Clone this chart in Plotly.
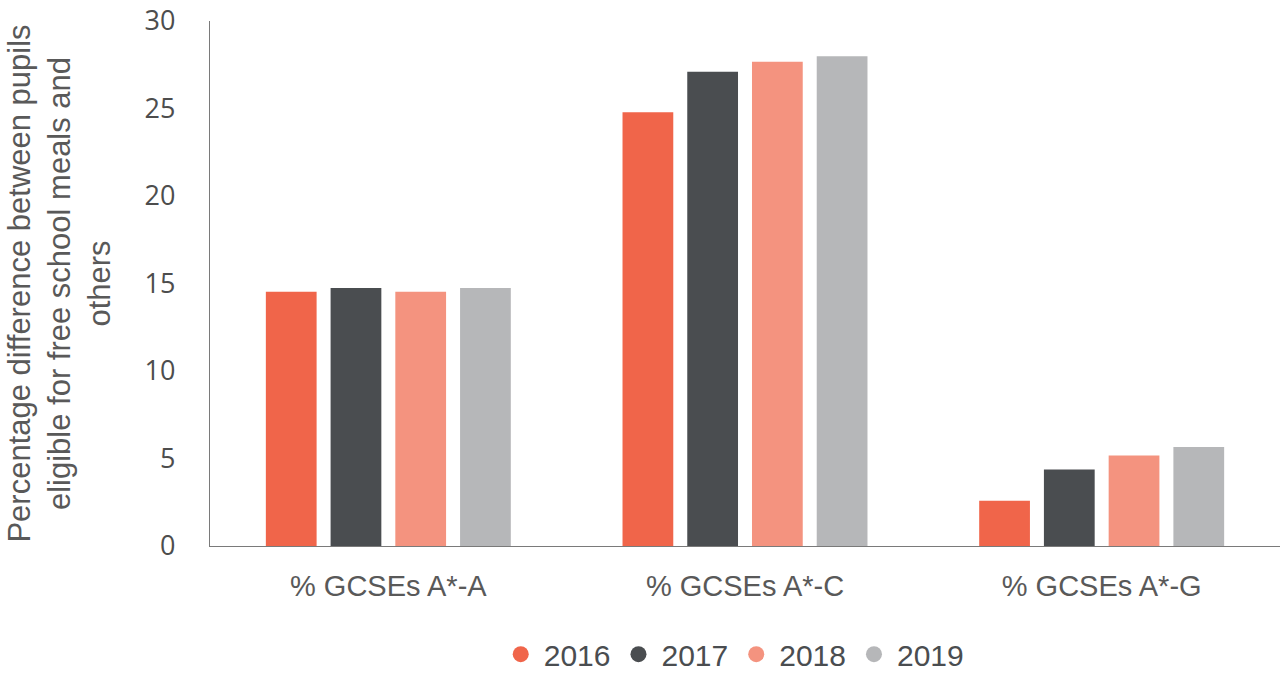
import plotly.graph_objects as go

categories = ["% GCSEs A*-A", "% GCSEs A*-C", "% GCSEs A*-G"]
years = ["2016", "2017", "2018", "2019"]
values_2016 = [14.53, 24.79, 2.59]
values_2017 = [14.74, 27.10, 4.37]
values_2018 = [14.53, 27.67, 5.17]
values_2019 = [14.74, 27.99, 5.66]
colors = ["#F0654A", "#4A4D50", "#F4937F", "#B6B7B9"]

series = [values_2016, values_2017, values_2018, values_2019]

fig = go.Figure()
for name, vals, col in zip(years, series, colors):
    fig.add_trace(go.Bar(x=categories, y=vals, name=name, marker=dict(color=col, line=dict(width=0)),
                         showlegend=False))
for name, col in zip(years, colors):
    fig.add_trace(go.Scatter(x=[None], y=[None], mode="markers", name=name,
                             marker=dict(color=col, size=18, symbol="circle")))

fig.update_layout(
    width=1280, height=673,
    margin=dict(l=210, r=0, t=21, b=127, autoexpand=False),
    paper_bgcolor="white", plot_bgcolor="white",
    barmode="group", bargap=0.274, bargroupgap=0.216,
    legend=dict(orientation="h", x=0.489, xanchor="center", y=-0.206, yanchor="middle",
                font=dict(family="Liberation Sans, Arial", size=30, color="#4A4D50"),
                tracegroupgap=0, itemwidth=36),
    xaxis=dict(showline=True, linecolor="#7a7a7a", linewidth=1.2, showgrid=False,
               ticks="", ticklabelstandoff=14, automargin=False,
               tickfont=dict(family="Liberation Sans, Arial", size=29, color="#595959")),
    yaxis=dict(range=[0, 30], dtick=5, showline=True, linecolor="#7a7a7a", linewidth=1.2,
               showgrid=False, zeroline=False, ticks="", ticklabelstandoff=28, automargin=False,
               tickfont=dict(family="Open Sans", size=27, color="#4D4D4D"),
               title=dict(text="Percentage difference between pupils<br>eligible for free school meals and<br>others",
                          font=dict(family="Liberation Sans, Arial", size=31, color="#595959"),
                          standoff=24)),
)

fig.write_html("out.html", config={"displayModeBar": False},
               post_script="document.body.style.margin='0';document.body.style.overflow='hidden';")
